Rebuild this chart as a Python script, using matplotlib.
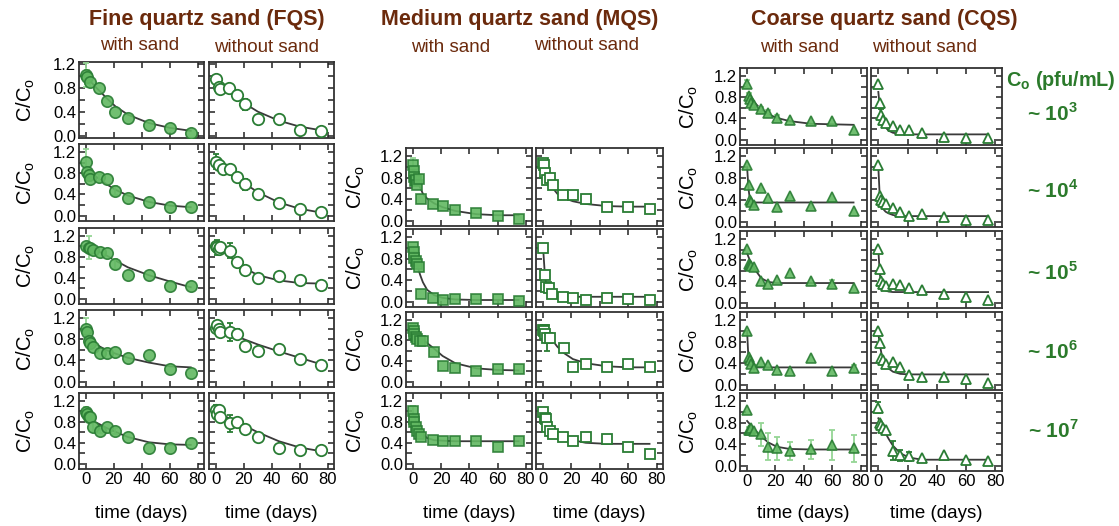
import matplotlib
matplotlib.use("Agg")
import matplotlib.pyplot as plt
import numpy as np

plt.rcParams['font.family'] = ['Liberation Sans', 'DejaVu Sans']
plt.rcParams['mathtext.fontset'] = 'custom'
plt.rcParams['mathtext.rm'] = 'Liberation Sans'
plt.rcParams['mathtext.bf'] = 'Liberation Sans:bold'

# ---- data (C/Co vs time in days) ----
fit_days = [0, 1, 2, 3, 5, 7, 10, 15, 21, 30, 45, 60, 75]

# Fine quartz sand
fqs_ws1_t = [0, 1, 3, 9, 15, 21, 30, 45, 60, 75]
fqs_ws1_y = [1.01, 0.98, 0.90, 0.79, 0.58, 0.40, 0.30, 0.17, 0.12, 0.05]
fqs_ws1_e = [0.20, 0.12, 0.08, 0, 0, 0, 0, 0, 0, 0]
fqs_ws1_fit = [1.0, 0.97, 0.94, 0.91, 0.86, 0.81, 0.74, 0.62, 0.49, 0.35, 0.21, 0.13, 0.08]
fqs_wo1_t = [0, 2, 3, 9, 15, 21, 30, 45, 60, 75]
fqs_wo1_y = [0.94, 0.82, 0.78, 0.79, 0.68, 0.52, 0.27, 0.27, 0.10, 0.08]
fqs_wo1_e = [0, 0.07, 0, 0.06, 0, 0.10, 0, 0, 0, 0]
fqs_wo1_fit = [0.92, 0.90, 0.88, 0.86, 0.82, 0.78, 0.72, 0.63, 0.53, 0.40, 0.25, 0.15, 0.09]

fqs_ws2_t = [0, 1, 2, 3, 9, 15, 21, 30, 45, 60, 75]
fqs_ws2_y = [1.01, 0.82, 0.76, 0.70, 0.72, 0.70, 0.47, 0.33, 0.26, 0.16, 0.17]
fqs_ws2_e = [0.25, 0.08, 0.10, 0, 0.07, 0, 0.08, 0, 0, 0, 0]
fqs_ws2_fit = [0.88, 0.86, 0.84, 0.82, 0.78, 0.74, 0.68, 0.59, 0.49, 0.38, 0.26, 0.19, 0.16]
fqs_wo2_t = [0, 2, 5, 10, 15, 21, 30, 45, 60, 75]
fqs_wo2_y = [1.02, 0.96, 0.87, 0.87, 0.73, 0.59, 0.41, 0.24, 0.12, 0.07]
fqs_wo2_e = [0.15, 0, 0, 0, 0, 0.10, 0, 0, 0, 0]
fqs_wo2_fit = [1.0, 0.98, 0.96, 0.94, 0.90, 0.87, 0.82, 0.72, 0.60, 0.44, 0.25, 0.13, 0.06]

fqs_ws3_t = [0, 2, 3, 5, 10, 15, 21, 30, 45, 60, 75]
fqs_ws3_y = [1.0, 0.97, 0.96, 0.93, 0.89, 0.88, 0.66, 0.45, 0.45, 0.25, 0.25]
fqs_ws3_e = [0, 0.22, 0.07, 0, 0, 0, 0.10, 0, 0, 0, 0]
fqs_ws3_fit = [1.0, 0.99, 0.98, 0.97, 0.95, 0.93, 0.89, 0.82, 0.73, 0.60, 0.45, 0.33, 0.22]
fqs_wo3_t = [0, 1, 2, 3, 10, 15, 21, 30, 45, 60, 75]
fqs_wo3_y = [1.01, 0.98, 0.95, 0.98, 0.92, 0.71, 0.55, 0.40, 0.44, 0.36, 0.27]
fqs_wo3_e = [0, 0.15, 0, 0, 0.15, 0, 0, 0, 0, 0, 0]
fqs_wo3_fit = [1.0, 0.98, 0.96, 0.94, 0.90, 0.86, 0.80, 0.70, 0.58, 0.45, 0.35, 0.30, 0.29]

fqs_ws4_t = [0, 1, 2, 3, 5, 10, 15, 21, 30, 45, 60, 75]
fqs_ws4_y = [1.0, 0.94, 0.77, 0.72, 0.66, 0.54, 0.54, 0.56, 0.45, 0.50, 0.24, 0.16]
fqs_ws4_e = [0.20, 0, 0, 0, 0, 0, 0, 0, 0, 0, 0, 0]
fqs_ws4_fit = [0.88, 0.85, 0.82, 0.79, 0.75, 0.71, 0.66, 0.59, 0.53, 0.45, 0.36, 0.29, 0.27]
fqs_wo4_t = [0, 1, 2, 3, 10, 15, 21, 30, 45, 60, 75]
fqs_wo4_y = [1.02, 1.07, 1.0, 0.94, 0.93, 0.90, 0.67, 0.58, 0.62, 0.42, 0.32]
fqs_wo4_e = [0, 0.05, 0, 0, 0.17, 0.10, 0, 0, 0.07, 0, 0]
fqs_wo4_fit = [1.0, 0.99, 0.98, 0.97, 0.95, 0.93, 0.90, 0.85, 0.79, 0.70, 0.57, 0.45, 0.33]

fqs_ws5_t = [0, 1, 2, 3, 5, 10, 15, 21, 30, 45, 60, 75]
fqs_ws5_y = [0.99, 0.95, 0.90, 0.89, 0.71, 0.63, 0.70, 0.62, 0.52, 0.31, 0.31, 0.39]
fqs_ws5_e = [0.10, 0, 0, 0, 0.10, 0.05, 0, 0.06, 0, 0, 0, 0]
fqs_ws5_fit = [0.89, 0.88, 0.86, 0.85, 0.82, 0.79, 0.75, 0.68, 0.61, 0.51, 0.41, 0.37, 0.36]
fqs_wo5_t = [0, 1, 2, 3, 10, 15, 21, 30, 45, 60, 75]
fqs_wo5_y = [1.03, 0.95, 1.02, 0.89, 0.77, 0.79, 0.66, 0.52, 0.31, 0.26, 0.26]
fqs_wo5_e = [0.10, 0, 0.08, 0, 0.16, 0, 0, 0, 0, 0, 0]
fqs_wo5_fit = [0.97, 0.96, 0.95, 0.94, 0.92, 0.90, 0.86, 0.80, 0.72, 0.60, 0.43, 0.31, 0.24]

# Medium quartz sand
mqs_ws2_t = [0, 0.5, 1, 1.5, 2, 3, 4, 6, 14, 21, 30, 45, 60, 75]
mqs_ws2_y = [1.03, 0.92, 0.82, 0.73, 0.76, 0.66, 0.77, 0.41, 0.30, 0.28, 0.19, 0.14, 0.08, 0.03]
mqs_ws2_e = [0.13, 0, 0, 0, 0, 0, 0, 0, 0, 0, 0, 0, 0, 0]
mqs_ws2_fit = [0.95, 0.88, 0.81, 0.75, 0.62, 0.50, 0.41, 0.32, 0.25, 0.18, 0.12, 0.10, 0.10]
mqs_wo2_t = [0, 0.5, 1.5, 3, 5, 7, 14, 21, 30, 45, 60, 75]
mqs_wo2_y = [1.08, 1.03, 0.89, 0.76, 0.79, 0.66, 0.47, 0.47, 0.41, 0.25, 0.25, 0.21]
mqs_wo2_e = [0] * 12
mqs_wo2_fit = [1.0, 0.93, 0.86, 0.80, 0.69, 0.60, 0.50, 0.42, 0.36, 0.31, 0.27, 0.26, 0.26]

mqs_ws3_t = [0, 0.5, 1, 2, 3, 4, 6, 14, 21, 30, 45, 60, 75]
mqs_ws3_y = [1.01, 0.92, 0.82, 0.76, 0.70, 0.65, 0.14, 0.06, 0.03, 0.05, 0.04, 0.04, 0.02]
mqs_ws3_e = [0] * 13
mqs_ws3_fit = [1.0, 0.90, 0.80, 0.68, 0.50, 0.36, 0.22, 0.12, 0.07, 0.04, 0.03, 0.03, 0.03]
mqs_wo3_t = [0, 1, 2, 4, 6, 14, 21, 30, 45, 60, 75]
mqs_wo3_y = [1.0, 0.49, 0.27, 0.25, 0.14, 0.09, 0.06, 0.03, 0.06, 0.05, 0.03]
mqs_wo3_e = [0] * 11
mqs_wo3_fit = [1.0, 0.60, 0.35, 0.22, 0.12, 0.10, 0.09, 0.09, 0.09, 0.09, 0.09, 0.09, 0.09]

mqs_ws4_t = [0, 0.5, 1, 2, 3, 5, 7, 15, 21, 30, 45, 60, 75]
mqs_ws4_y = [1.04, 0.99, 0.92, 0.87, 0.82, 0.79, 0.78, 0.57, 0.30, 0.27, 0.20, 0.24, 0.24]
mqs_ws4_e = [0.05, 0, 0, 0, 0, 0, 0, 0, 0, 0, 0, 0, 0]
mqs_ws4_fit = [1.0, 0.97, 0.94, 0.92, 0.87, 0.82, 0.75, 0.64, 0.50, 0.36, 0.26, 0.23, 0.22]
mqs_wo4_t = [0, 0.5, 1.5, 3, 5, 15, 21, 30, 45, 60, 75]
mqs_wo4_y = [1.01, 0.98, 0.92, 0.84, 0.85, 0.66, 0.28, 0.34, 0.28, 0.35, 0.28]
mqs_wo4_e = [0.08, 0, 0, 0.25, 0, 0, 0, 0, 0, 0, 0]
mqs_wo4_fit = [1.04, 1.0, 0.96, 0.92, 0.85, 0.79, 0.68, 0.55, 0.44, 0.36, 0.30, 0.28, 0.28]

mqs_ws5_t = [0, 0.5, 1, 2, 3, 4, 6, 14, 21, 30, 45, 60, 75]
mqs_ws5_y = [1.01, 0.85, 0.79, 0.70, 0.63, 0.57, 0.51, 0.46, 0.43, 0.44, 0.43, 0.32, 0.43]
mqs_ws5_e = [0.10, 0, 0, 0, 0, 0, 0, 0, 0, 0, 0, 0, 0]
mqs_ws5_fit = [0.95, 0.88, 0.82, 0.76, 0.64, 0.56, 0.49, 0.45, 0.44, 0.43, 0.43, 0.43, 0.43]
mqs_wo5_t = [0, 1, 2, 3, 5, 7, 14, 21, 30, 45, 60, 75]
mqs_wo5_y = [0.98, 0.87, 0.85, 0.70, 0.62, 0.57, 0.51, 0.44, 0.52, 0.47, 0.32, 0.18]
mqs_wo5_e = [0] * 12
mqs_wo5_fit = [0.92, 0.88, 0.85, 0.81, 0.75, 0.69, 0.61, 0.52, 0.45, 0.40, 0.38, 0.38, 0.38]

# Coarse quartz sand
cqs_t = [0, 1, 2, 3, 5, 10, 15, 21, 30, 45, 60, 75]
cqs_ws1_y = [1.05, 0.83, 0.76, 0.70, 0.66, 0.57, 0.50, 0.41, 0.37, 0.35, 0.36, 0.18]
cqs_ws1_e = [0.08, 0.05, 0, 0.06, 0, 0.05, 0.06, 0.05, 0, 0, 0, 0]
cqs_ws1_fit = [0.88, 0.84, 0.80, 0.77, 0.71, 0.65, 0.57, 0.48, 0.41, 0.35, 0.30, 0.29, 0.28]
cqs_wo1_y = [1.05, 0.70, 0.47, 0.37, 0.31, 0.25, 0.18, 0.18, 0.13, 0.05, 0.03, 0.03]
cqs_wo1_e = [0, 0, 0.10, 0, 0, 0, 0, 0, 0, 0, 0, 0]
cqs_wo1_fit = [0.90, 0.62, 0.45, 0.35, 0.23, 0.17, 0.13, 0.11, 0.10, 0.10, 0.10, 0.10, 0.10]

cqs_ws2_y = [1.04, 0.68, 0.40, 0.36, 0.30, 0.62, 0.44, 0.27, 0.46, 0.29, 0.45, 0.19]
cqs_ws2_e = [0] * 12
cqs_ws2_fit = [1.0, 0.60, 0.40, 0.36, 0.35, 0.35, 0.35, 0.35, 0.35, 0.35, 0.35, 0.35, 0.35]
cqs_wo2_y = [1.04, 0.46, 0.40, 0.36, 0.32, 0.24, 0.18, 0.11, 0.14, 0.08, 0.03, 0.03]
cqs_wo2_e = [0] * 12
cqs_wo2_fit = [1.0, 0.45, 0.30, 0.24, 0.18, 0.15, 0.12, 0.10, 0.10, 0.10, 0.10, 0.10, 0.10]

cqs_ws3_y = [1.01, 0.73, 0.71, 0.69, 0.67, 0.40, 0.36, 0.42, 0.56, 0.40, 0.36, 0.28]
cqs_ws3_e = [0, 0, 0, 0, 0, 0, 0, 0, 0, 0, 0.07, 0]
cqs_ws3_fit = [0.93, 0.86, 0.80, 0.74, 0.65, 0.57, 0.46, 0.39, 0.37, 0.37, 0.37, 0.37, 0.37]
cqs_wo3_y = [1.01, 0.64, 0.40, 0.36, 0.31, 0.36, 0.34, 0.28, 0.23, 0.16, 0.11, 0.06]
cqs_wo3_e = [0] * 12
cqs_wo3_fit = [1.0, 0.55, 0.35, 0.28, 0.23, 0.21, 0.20, 0.20, 0.20, 0.20, 0.20, 0.20, 0.20]

cqs_ws4_y = [0.99, 0.52, 0.46, 0.39, 0.30, 0.42, 0.36, 0.27, 0.25, 0.50, 0.25, 0.30]
cqs_ws4_e = [0, 0, 0, 0, 0.06, 0, 0, 0, 0, 0, 0, 0.07]
cqs_ws4_fit = [1.0, 0.45, 0.35, 0.32, 0.32, 0.32, 0.32, 0.32, 0.32, 0.32, 0.32, 0.32, 0.32]
cqs_wo4_y = [0.99, 0.77, 0.49, 0.46, 0.39, 0.42, 0.33, 0.18, 0.14, 0.14, 0.11, 0.03]
cqs_wo4_e = [0] * 12
cqs_wo4_fit = [0.95, 0.75, 0.60, 0.48, 0.37, 0.30, 0.24, 0.20, 0.19, 0.19, 0.19, 0.19, 0.19]

cqs_ws5_y = [1.03, 0.66, 0.66, 0.70, 0.65, 0.58, 0.35, 0.32, 0.27, 0.30, 0.38, 0.32]
cqs_ws5_e = [0, 0.05, 0, 0, 0, 0.22, 0.25, 0.22, 0.17, 0.18, 0.28, 0.25]
cqs_ws5_fit = [0.83, 0.80, 0.77, 0.74, 0.68, 0.62, 0.54, 0.43, 0.35, 0.31, 0.30, 0.30, 0.30]
cqs_wo5_y = [1.08, 0.79, 0.76, 0.70, 0.66, 0.28, 0.19, 0.17, 0.15, 0.19, 0.11, 0.08]
cqs_wo5_e = [0.10, 0, 0, 0, 0, 0.18, 0.10, 0.08, 0, 0, 0, 0]
cqs_wo5_fit = [0.88, 0.82, 0.77, 0.72, 0.60, 0.50, 0.37, 0.23, 0.15, 0.11, 0.11, 0.11, 0.11]

group_titles = ['Fine quartz sand (FQS)', 'Medium quartz sand (MQS)', 'Coarse quartz sand (CQS)']
conc_labels = ['3', '4', '5', '6', '7']

# ---- style ----
W, H = 1119, 526
brown = '#6b2a0c'
green_txt = '#2b7a2b'
edge_green = '#2a7d34'
face_green = '#62b862'
light_err = '#95d695'

fig = plt.figure(figsize=(W / 100, H / 100), dpi=100)


def rect(x0, x1, y0, y1):
    return [x0 / W, 1 - y1 / H, (x1 - x0) / W, (y1 - y0) / H]


def panel(box, t, y, e, fit, marker, filled, ylim, ms, left, bottom):
    ax = fig.add_axes(rect(*box))
    ax.plot(fit_days, fit, color='#3a3a3a', lw=1.3, zorder=2)
    ecol = light_err if filled else edge_green
    t = np.array(t, float)
    y = np.array(y, float)
    e = np.array(e, float)
    m = e > 0
    if m.any():
        ax.errorbar(t[m], y[m], yerr=e[m], fmt='none', ecolor=ecol, elinewidth=1.3,
                    capsize=2.5, capthick=1.3, zorder=3)
    if filled:
        ax.plot(t, y, marker, ms=ms, mfc=face_green, mec=edge_green, mew=1.2,
                ls='none', alpha=0.9, zorder=4)
    else:
        ax.plot(t, y, marker, ms=ms, mfc='white', mec=edge_green, mew=1.3,
                ls='none', zorder=4)
    ax.set_xlim(-5, 84.5)
    ax.set_ylim(*ylim)
    ax.set_xticks([0, 20, 40, 60, 80])
    ax.set_yticks([0, 0.2, 0.4, 0.6, 0.8, 1.0, 1.2])
    ax.set_yticklabels(['0.0', '', '0.4', '', '0.8', '', '1.2'] if left else [])
    if bottom:
        ax.set_xticklabels(['0', '20', '40', '60', '80'])
    else:
        ax.set_xticklabels([])
    ax.tick_params(direction='in', top=True, right=True, length=4, width=1.1,
                   labelsize=12, pad=2, colors='#222222', labelcolor='black')
    for s in ax.spines.values():
        s.set_linewidth(1.3)
        s.set_color('#333333')
    return ax


ylim_std = (-0.1, 1.35)

fqs_x = [(79, 204), (209, 334)]
fqs_y = [(62, 138), (144, 221), (228, 304), (310, 387), (393, 469)]
mqs_x = [(406, 532), (536, 663)]
mqs_y = [(148, 226), (229, 307), (312, 387), (393, 469)]
cqs_x = [(740, 867), (871, 1002)]
cqs_y = [(68, 145), (148, 227), (231, 308), (312, 390), (393, 471)]

fqs_rows = [
    ((fqs_ws1_t, fqs_ws1_y, fqs_ws1_e, fqs_ws1_fit), (fqs_wo1_t, fqs_wo1_y, fqs_wo1_e, fqs_wo1_fit)),
    ((fqs_ws2_t, fqs_ws2_y, fqs_ws2_e, fqs_ws2_fit), (fqs_wo2_t, fqs_wo2_y, fqs_wo2_e, fqs_wo2_fit)),
    ((fqs_ws3_t, fqs_ws3_y, fqs_ws3_e, fqs_ws3_fit), (fqs_wo3_t, fqs_wo3_y, fqs_wo3_e, fqs_wo3_fit)),
    ((fqs_ws4_t, fqs_ws4_y, fqs_ws4_e, fqs_ws4_fit), (fqs_wo4_t, fqs_wo4_y, fqs_wo4_e, fqs_wo4_fit)),
    ((fqs_ws5_t, fqs_ws5_y, fqs_ws5_e, fqs_ws5_fit), (fqs_wo5_t, fqs_wo5_y, fqs_wo5_e, fqs_wo5_fit)),
]
mqs_rows = [
    ((mqs_ws2_t, mqs_ws2_y, mqs_ws2_e, mqs_ws2_fit), (mqs_wo2_t, mqs_wo2_y, mqs_wo2_e, mqs_wo2_fit)),
    ((mqs_ws3_t, mqs_ws3_y, mqs_ws3_e, mqs_ws3_fit), (mqs_wo3_t, mqs_wo3_y, mqs_wo3_e, mqs_wo3_fit)),
    ((mqs_ws4_t, mqs_ws4_y, mqs_ws4_e, mqs_ws4_fit), (mqs_wo4_t, mqs_wo4_y, mqs_wo4_e, mqs_wo4_fit)),
    ((mqs_ws5_t, mqs_ws5_y, mqs_ws5_e, mqs_ws5_fit), (mqs_wo5_t, mqs_wo5_y, mqs_wo5_e, mqs_wo5_fit)),
]
cqs_rows = [
    ((cqs_t, cqs_ws1_y, cqs_ws1_e, cqs_ws1_fit), (cqs_t, cqs_wo1_y, cqs_wo1_e, cqs_wo1_fit)),
    ((cqs_t, cqs_ws2_y, cqs_ws2_e, cqs_ws2_fit), (cqs_t, cqs_wo2_y, cqs_wo2_e, cqs_wo2_fit)),
    ((cqs_t, cqs_ws3_y, cqs_ws3_e, cqs_ws3_fit), (cqs_t, cqs_wo3_y, cqs_wo3_e, cqs_wo3_fit)),
    ((cqs_t, cqs_ws4_y, cqs_ws4_e, cqs_ws4_fit), (cqs_t, cqs_wo4_y, cqs_wo4_e, cqs_wo4_fit)),
    ((cqs_t, cqs_ws5_y, cqs_ws5_e, cqs_ws5_fit), (cqs_t, cqs_wo5_y, cqs_wo5_e, cqs_wo5_fit)),
]

groups = [
    (fqs_rows, fqs_x, fqs_y, 'o', 8.2, 26),
    (mqs_rows, mqs_x, mqs_y, 's', 7.3, 356),
    (cqs_rows, cqs_x, cqs_y, '^', 7.8, 689),
]

for gi, (rows, xs, ys, mk, ms, ylab_x) in enumerate(groups):
    nrow = len(rows)
    for ri, pair in enumerate(rows):
        for ci, (t, y, e, fit) in enumerate(pair):
            ylim = (-0.04, 1.23) if (gi == 0 and ri == 0) else ylim_std
            box = (xs[ci][0], xs[ci][1], ys[ri][0], ys[ri][1])
            panel(box, t, y, e, fit, mk, ci == 0, ylim, ms, ci == 0, ri == nrow - 1)
        yc = (ys[ri][0] + ys[ri][1]) / 2
        fig.text(ylab_x / W, 1 - yc / H, 'C/C$_\\mathrm{o}$', rotation=90, fontsize=14.5,
                 ha='center', va='center')
    for ci in range(2):
        xc = (xs[ci][0] + xs[ci][1]) / 2
        fig.text(xc / W, 1 - 513 / H, 'time (days)', fontsize=13.5, ha='center', va='center')

# group titles and sub headers
title_x = [207, 520, 884]
for gi in range(3):
    fig.text(title_x[gi] / W, 1 - 20 / H, group_titles[gi], fontsize=15.5, fontweight='bold',
             color=brown, ha='center', va='center')
sub_pos = [(140, 45, 'with sand'), (267, 47, 'without sand'),
           (451, 47, 'with sand'), (587, 46, 'without sand'),
           (800, 48, 'with sand'), (925, 48, 'without sand')]
for x, y, s in sub_pos:
    fig.text(x / W, 1 - y / H, s, fontsize=13.5, color=brown, ha='center', va='center')

# concentration labels on the right
fig.text(1061 / W, 1 - 80 / H, 'C$_\\mathbf{o}$ (pfu/mL)', fontsize=14.3, fontweight='bold',
         color=green_txt, ha='center', va='center')
conc_y = [113, 190, 272, 352, 430]
for lab, yy in zip(conc_labels, conc_y):
    fig.text(1053 / W, 1 - yy / H, '~ 10$^\\mathbf{' + lab + '}$', fontsize=15,
             fontweight='bold', color=green_txt, ha='center', va='center')

fig.savefig('out.png', dpi=100, facecolor='white')
